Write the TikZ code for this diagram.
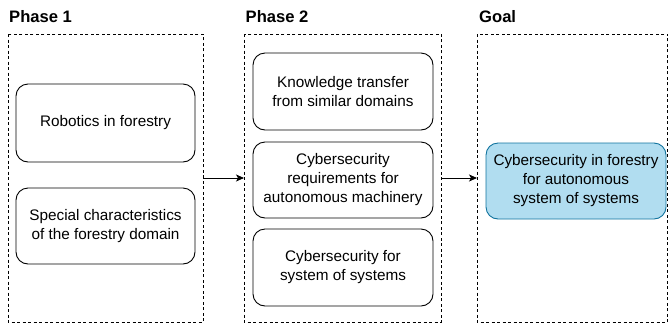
\documentclass[tikz,border=0pt]{standalone}
\usepackage{fontspec}
\setmainfont{Liberation Sans}
\usetikzlibrary{arrows.meta}
\definecolor{goalfill}{HTML}{B1DDF0}
\definecolor{goaldraw}{HTML}{10739E}
\tikzset{
  container/.style={draw=black, line width=0.9bp, dash pattern=on 3bp off 2.5bp},
  stepbox/.style={draw=black, line width=0.9bp, rounded corners=12bp, align=center, inner sep=0pt,
    font=\fontsize{15.3bp}{19bp}\selectfont},
  phaselabel/.style={anchor=base west, inner sep=0pt, font=\fontsize{16.6bp}{20bp}\selectfont\bfseries},
  flow/.style={draw=black, line width=0.9bp, -{Stealth[length=8bp,width=7bp,inset=2bp]}}
}
\begin{document}
\begin{tikzpicture}[x=1bp,y=-1bp]
\useasboundingbox (0,0) rectangle (669,324);
% containers
\draw[container] (8,34) rectangle (203,322);
\draw[container] (244,34) rectangle (441,322);
\draw[container] (477,34) rectangle (667.5,322);
\coordinate (c1e) at (203,178);
\coordinate (c2w) at (244,178);
\coordinate (c2e) at (441,178);
\coordinate (c3w) at (477,178);
% labels
\node[phaselabel] (l1) at (9,22.5) {Phase 1};
\node[phaselabel] (l2) at (245.5,22.5) {Phase 2};
\node[phaselabel] (l3) at (479,22.5) {Goal};
% phase 1 boxes
\node[stepbox, minimum width=179bp, minimum height=78bp] (p1a) at (105.5,123) {Robotics in forestry};
\node[stepbox, minimum width=179bp, minimum height=76bp] (p1b) at (105.5,226) {Special characteristics\\of the forestry domain};
% phase 2 boxes
\node[stepbox, minimum width=180bp, minimum height=77bp] (p2a) at (343,91.5) {Knowledge transfer\\from similar domains};
\node[stepbox, minimum width=180bp, minimum height=76bp] (p2b) at (343,180) {Cybersecurity\\requirements for\\autonomous machinery};
\node[stepbox, minimum width=180bp, minimum height=77bp] (p2c) at (343,267.5) {Cybersecurity for\\system of systems};
% goal
\node[stepbox, draw=goaldraw, fill=goalfill, minimum width=180bp, minimum height=76bp] (g) at (576,181) {Cybersecurity in forestry\\for autonomous\\system of systems};
% arrows
\draw[flow] (c1e) -- (c2w);
\draw[flow] (c2e) -- (c3w);
\end{tikzpicture}
\end{document}
